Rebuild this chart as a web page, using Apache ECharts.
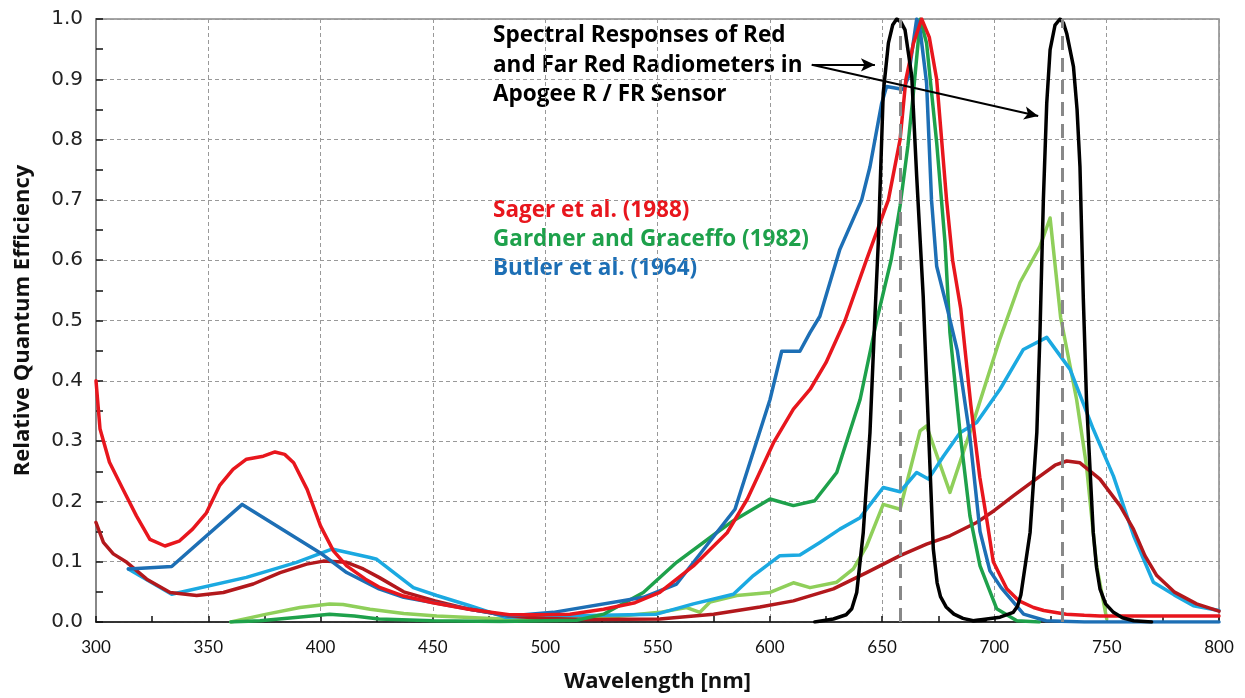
<!DOCTYPE html>
<html><head><meta charset="utf-8">
<script src="https://cdn.jsdelivr.net/npm/echarts@6/dist/echarts.min.js"></script>
<style>html,body{margin:0;padding:0;background:#fff}#c{width:1245px;height:698px}</style>
</head><body><div id="c"></div>
<script>
// ---- Data: [wavelength nm, relative quantum efficiency] ----
const sagerA = [[300,0.40],[301.8,0.32],[306,0.265],[312,0.22],[318,0.176],[324,0.137],[330.7,0.126],[337,0.134],[343,0.154],[349,0.18],[355,0.226],[361,0.253],[367,0.27],[374.5,0.275],[379.7,0.282],[384,0.278],[388,0.264],[394,0.22],[400,0.159],[405.7,0.118],[411.6,0.093],[420,0.071],[426,0.058],[437,0.043],[450,0.032],[466,0.021],[484,0.012],[500,0.012],[511,0.013],[526,0.021],[540,0.032],[551,0.049],[566,0.093],[581,0.148],[590,0.204],[601.6,0.297],[610.5,0.353],[618,0.386],[625,0.43],[633.5,0.5],[643,0.6],[652.8,0.7],[658,0.8],[660.6,0.9],[664,0.96],[667.6,1.0],[671,0.97],[674.3,0.9],[676.5,0.8],[678.7,0.7],[681.4,0.6],[685,0.52],[689.5,0.36],[693.5,0.24],[696.6,0.17],[699.5,0.1],[705.5,0.055],[711,0.035],[717.4,0.024],[722,0.019],[732,0.013],[740,0.011],[747,0.01],[760,0.01],[780,0.01],[800,0.01]];
const sagerB = [[300,0.165],[303.3,0.132],[307.7,0.113],[313.7,0.099],[322.6,0.071],[333,0.049],[344.8,0.044],[356.7,0.049],[370,0.063],[382,0.082],[393.8,0.096],[401.2,0.101],[411.6,0.099],[419,0.088],[426,0.074],[437,0.05],[451,0.035],[466.5,0.021],[484,0.01],[500,0.006],[520,0.004],[551,0.005],[575,0.013],[595.6,0.025],[610.5,0.035],[628.3,0.055],[643.1,0.082],[658,0.11],[669.8,0.129],[680.2,0.143],[692.1,0.165],[700,0.185],[708.4,0.209],[720.3,0.242],[727,0.26],[732.2,0.267],[738.1,0.264],[747,0.237],[755.9,0.193],[761.9,0.154],[767,0.11],[772.3,0.077],[780,0.05],[790,0.03],[800,0.018]];
const gardnerA = [[360,0.0],[373,0.002],[390,0.008],[404,0.013],[415,0.01],[426,0.005],[450,0.002],[480,0.001],[514,0.003],[526,0.013],[543.7,0.049],[558.5,0.099],[576.3,0.148],[583.8,0.168],[600.1,0.204],[610.5,0.193],[620,0.201],[629.8,0.248],[640.2,0.369],[647.6,0.5],[654,0.6],[658,0.69],[661.5,0.79],[664,0.88],[667,1.0],[669.8,0.96],[674.3,0.795],[678,0.63],[680.2,0.48],[684.7,0.314],[689.1,0.176],[693.6,0.093],[701,0.022],[710,0.002],[720,0.0]];
const gardnerB = [[360,0.0],[376,0.013],[390.8,0.024],[404,0.03],[410,0.029],[422,0.021],[437,0.014],[451.7,0.01],[481,0.005],[520,0.005],[551,0.016],[563,0.024],[568.9,0.016],[573.4,0.033],[585.3,0.044],[600.1,0.049],[610.5,0.065],[617.9,0.057],[629.8,0.066],[637.2,0.088],[643.1,0.126],[650.5,0.195],[658,0.187],[666.9,0.317],[669.8,0.325],[680.2,0.215],[690.6,0.331],[702.5,0.47],[711.4,0.563],[720.3,0.623],[724.8,0.67],[729.5,0.505],[736.6,0.369],[741,0.259],[745.5,0.093],[750,0.005]];
const butlerA = [[314.4,0.088],[333.7,0.092],[365.1,0.195],[399.7,0.115],[411.6,0.082],[426,0.055],[437,0.041],[466.5,0.021],[484,0.01],[503.6,0.016],[543.7,0.041],[558.5,0.063],[576.3,0.148],[584.5,0.187],[600.1,0.369],[605.3,0.449],[613.4,0.449],[617.9,0.48],[622.3,0.507],[631.2,0.618],[640.9,0.7],[644.6,0.755],[649.8,0.86],[652,0.888],[659.5,0.883],[661.7,0.904],[665.4,1.0],[667,0.98],[669.8,0.894],[672,0.7],[674.3,0.59],[679,0.52],[683.5,0.45],[689,0.31],[693.6,0.15],[698,0.085],[703,0.057],[713,0.013],[723,0.002],[740,0.0],[800,0.0]];
const butlerB = [[314.4,0.088],[333.7,0.046],[367,0.074],[389.3,0.099],[405,0.121],[422,0.107],[425,0.104],[441.3,0.057],[451.7,0.044],[466.5,0.027],[482,0.008],[506.6,0.01],[549.6,0.013],[566,0.03],[583.8,0.046],[592.7,0.077],[604.5,0.11],[613.4,0.111],[622.3,0.132],[631.2,0.154],[640.2,0.173],[650.5,0.223],[658,0.216],[665.4,0.248],[670.6,0.237],[677.3,0.275],[684.7,0.314],[692.1,0.331],[702.5,0.386],[712.9,0.452],[723.3,0.472],[733.7,0.419],[744,0.32],[753,0.242],[762,0.143],[770.8,0.066],[780,0.045],[788.6,0.027],[800,0.019]];
const apogeeRed = [[620,0.0],[628.3,0.005],[634,0.012],[636.5,0.022],[638.7,0.049],[641.6,0.148],[644.6,0.314],[646.8,0.507],[648.3,0.629],[650.5,0.877],[652.8,0.96],[654.7,0.99],[656.5,1.0],[658.4,0.995],[660.2,0.982],[663.2,0.905],[665.4,0.739],[668.3,0.54],[671.3,0.259],[672.8,0.121],[674.5,0.065],[676,0.042],[678.5,0.025],[682,0.013],[686,0.006],[690.6,0.002],[696,0.003]];
const apogeeFarRed = [[690.6,0.002],[702.5,0.008],[708.4,0.016],[710.3,0.026],[711.8,0.045],[715.9,0.149],[718.9,0.315],[720.3,0.48],[721.8,0.7],[723.3,0.86],[724.8,0.949],[727,0.99],[729.2,1.0],[730.8,0.993],[732.2,0.976],[735.2,0.921],[736.8,0.85],[738.1,0.755],[739.6,0.535],[741,0.369],[744,0.149],[745.5,0.09],[747,0.055],[749.5,0.03],[753,0.016],[757,0.007],[762,0.002],[770,0.0]];
// sensor centre wavelengths (dashed reference lines)
const sensorCentres = [658, 730];
// annotation arrows: [from, to] in data coordinates
const arrowLines = [[[618.7,0.924],[646.8,0.924]], [[618.7,0.924],[719.5,0.839]]];
const legendLabels = ['Sager et al. (1988)', 'Gardner and Graceffo (1982)', 'Butler et al. (1964)'];
const noteLines = ['Spectral Responses of Red', 'and Far Red Radiometers in', 'Apogee R / FR Sensor'];

const C = {red:'#E8161D', darkred:'#B2181C', green:'#1EA14B', lightgreen:'#8FCF5A', blue:'#1D6FB5', lightblue:'#1BA9E1', black:'#000'};

function line(name, data, color, extra) {
  return Object.assign({
    name, type:'line', data, showSymbol:false, symbol:'none', smooth:false,
    lineStyle:{color, width:3.5, join:'round', cap:'round'}, itemStyle:{color}, animation:false, clip:true
  }, extra||{});
}

const chart = echarts.init(document.getElementById('c'), null, {renderer:'canvas'});
chart.setOption({
  backgroundColor:'#fff',
  animation:false,
  grid:{left:96, right:26, top:19, bottom:75, show:true, borderColor:'#888', borderWidth:1.5, backgroundColor:'transparent'},
  xAxis:{
    type:'value', min:300, max:800, interval:50,
    name:'Wavelength [nm]', nameLocation:'middle', nameGap:49,
    nameTextStyle:{fontFamily:'Open Sans', fontWeight:'bold', fontSize:22, color:'#111'},
    axisLine:{show:true, lineStyle:{color:'#111', width:1.5}},
    axisTick:{show:true, inside:true, length:6, lineStyle:{color:'#111', width:1.5}},
    minorTick:{show:true, splitNumber:2, length:6, lineStyle:{color:'#111', width:1.5}},
    axisLabel:{fontFamily:'Lato', fontSize:17, color:'#111', margin:17},
    splitLine:{show:true, lineStyle:{color:'#999', type:[4,3], width:1}}
  },
  yAxis:{
    type:'value', min:0, max:1, interval:0.1,
    name:'Relative Quantum Efficiency', nameLocation:'middle', nameGap:62,
    nameTextStyle:{fontFamily:'Open Sans', fontWeight:'bold', fontSize:22, color:'#111'},
    axisLine:{show:true, lineStyle:{color:'#888', width:2}},
    axisTick:{show:true, inside:true, length:7, lineStyle:{color:'#111', width:1.5}},
    minorTick:{show:true, splitNumber:2, length:7, lineStyle:{color:'#111', width:1.5}},
    axisLabel:{fontFamily:'DejaVu Sans', fontSize:20, color:'#222', margin:13, formatter:v=>v.toFixed(1)},
    splitLine:{show:true, lineStyle:{color:'#999', type:[4,3], width:1}}
  },
  graphic:[
    {type:'text', left:493, top:21, style:{text:noteLines.join('\n'), font:'bold 22.5px "Open Sans"', fill:'#000', lineHeight:29.5}},
    {type:'text', left:493, top:199, style:{text:legendLabels[0], font:'bold 22.5px "Open Sans"', fill:C.red}},
    {type:'text', left:493, top:228, style:{text:legendLabels[1], font:'bold 22.5px "Open Sans"', fill:C.green}},
    {type:'text', left:493, top:257, style:{text:legendLabels[2], font:'bold 22.5px "Open Sans"', fill:C.blue}}
  ],
  series:[
    line('Gardner and Graceffo (1982) b', gardnerB, C.lightgreen),
    line('Butler et al. (1964) b', butlerB, C.lightblue),
    line('Sager et al. (1988) b', sagerB, C.darkred),
    line('Gardner and Graceffo (1982)', gardnerA, C.green),
    line('Butler et al. (1964)', butlerA, C.blue),
    line('Sager et al. (1988)', sagerA, C.red),
    line('Apogee Red', apogeeRed, C.black, {
      markLine:{silent:true, symbol:['none','none'], animation:false, label:{show:false},
        lineStyle:{color:'#888', width:3, type:[14,8]},
        data: sensorCentres.map(v=>({xAxis:v}))}
    }),
    line('Apogee Far Red', apogeeFarRed, C.black, {
      markLine:{silent:true, symbol:['none','arrow'], symbolSize:[10,14], animation:false, label:{show:false},
        lineStyle:{color:'#000', width:2, type:'solid'},
        data: arrowLines.map(a=>[{coord:a[0]},{coord:a[1]}])}
    })
  ]
});
</script></body></html>
